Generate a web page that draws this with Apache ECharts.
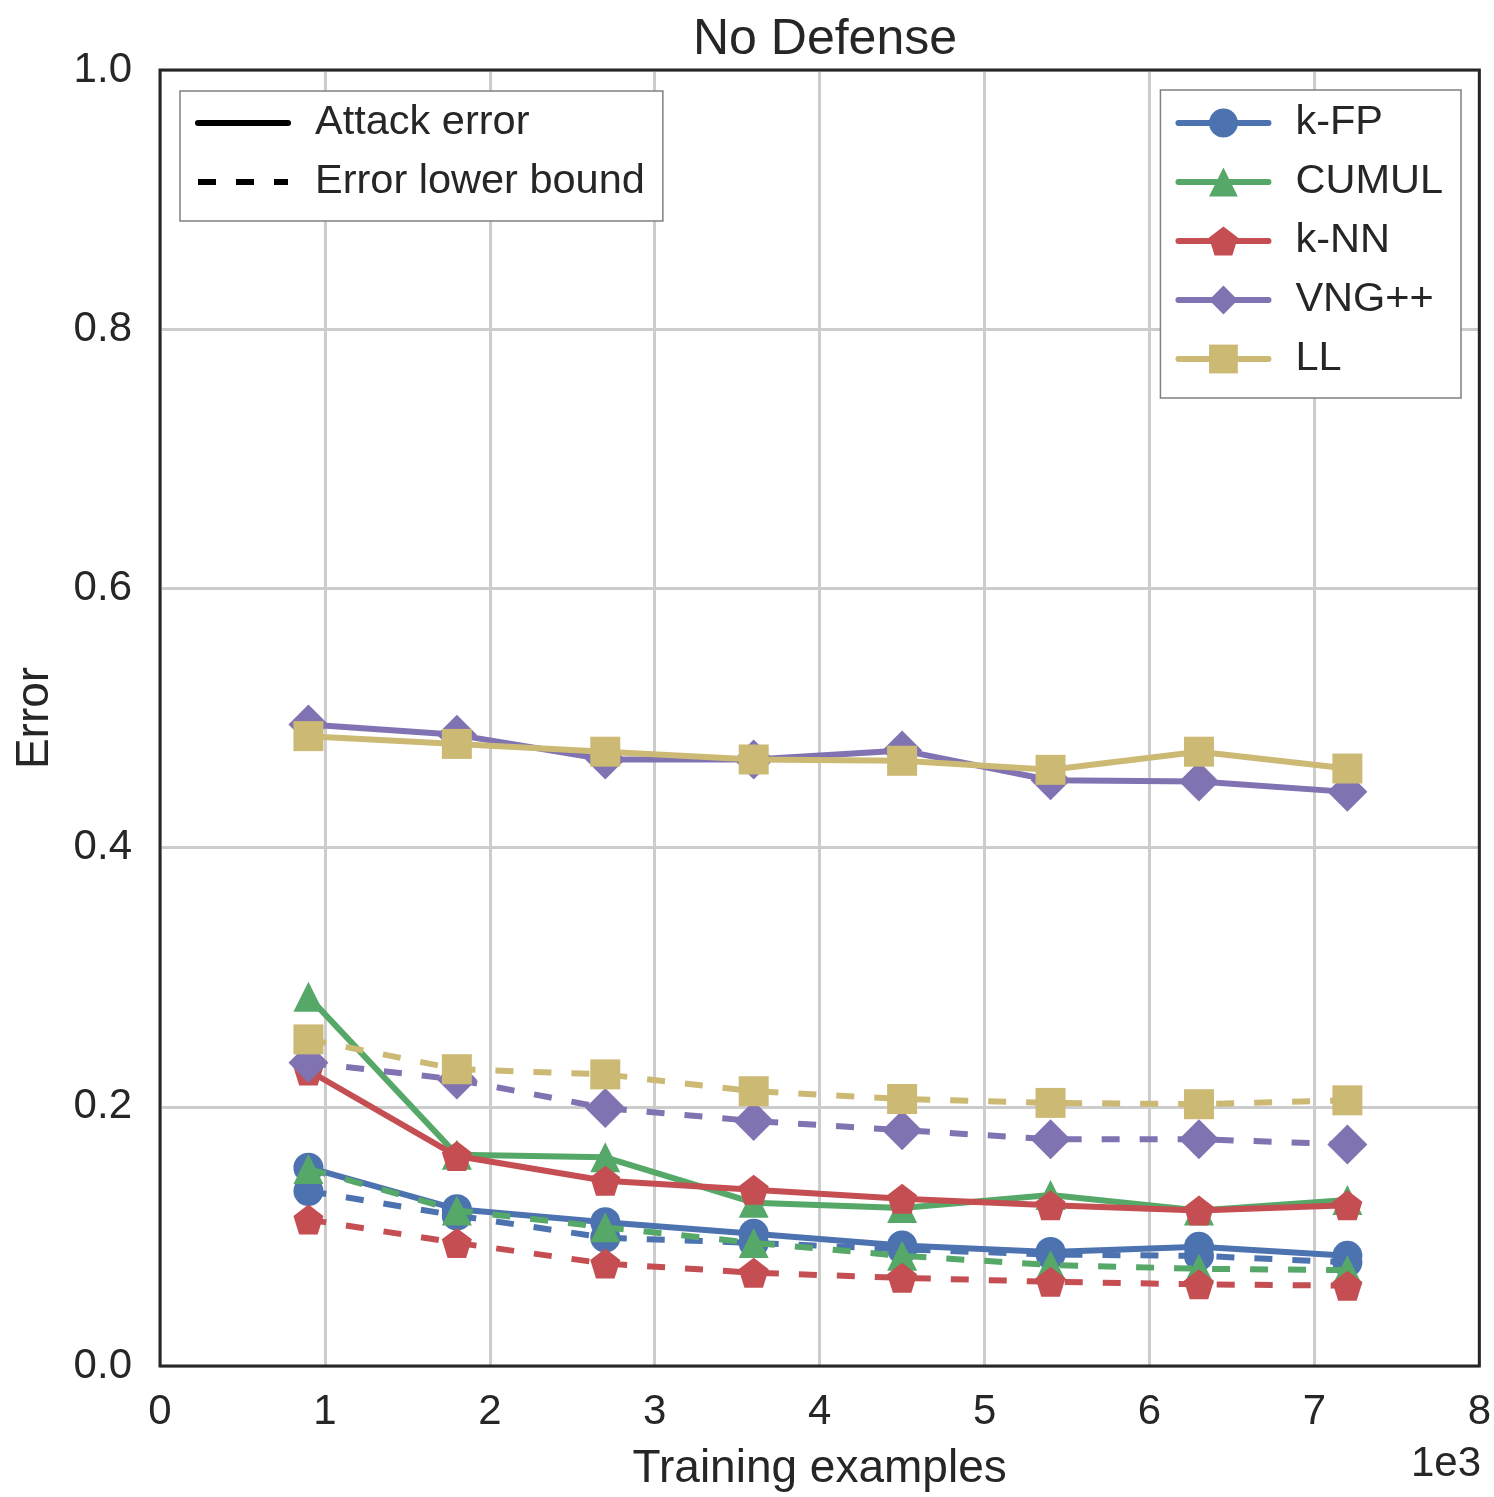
<!DOCTYPE html>
<html>
<head>
<meta charset="utf-8">
<script src="https://cdn.jsdelivr.net/npm/echarts@6/dist/echarts.min.js"></script>
<style>
  html, body { margin: 0; padding: 0; background: #fff; }
  #chart { width: 1494px; height: 1497px; }
</style>
</head>
<body>
<div id="chart"></div>
<script>
// training examples, in thousands (axis shows 1e3)
const trainSizes = [0.9, 1.8, 2.7, 3.6, 4.5, 5.4, 6.3, 7.2]

const attacks = ['k-FP', 'CUMUL', 'k-NN', 'VNG++', 'LL']

// attack error (solid lines)
const kfpError = [0.153, 0.121, 0.111, 0.102, 0.093, 0.088, 0.092, 0.085]
const cumulError = [0.285, 0.163, 0.161, 0.126, 0.122, 0.132, 0.120, 0.128]
const knnError = [0.228, 0.162, 0.143, 0.136, 0.129, 0.124, 0.120, 0.124]
const vngError = [0.495, 0.487, 0.468, 0.468, 0.475, 0.452, 0.451, 0.443]
const llError = [0.486, 0.480, 0.474, 0.468, 0.467, 0.460, 0.474, 0.461]

// error lower bound (dashed lines)
const kfpBound = [0.135, 0.116, 0.099, 0.095, 0.090, 0.086, 0.085, 0.080]
const cumulBound = [0.152, 0.120, 0.107, 0.095, 0.085, 0.078, 0.075, 0.074]
const knnBound = [0.113, 0.095, 0.079, 0.072, 0.068, 0.065, 0.063, 0.062]
const vngBound = [0.234, 0.221, 0.199, 0.189, 0.182, 0.175, 0.175, 0.171]
const llBound = [0.252, 0.229, 0.225, 0.212, 0.206, 0.203, 0.202, 0.205]

const yTicks = [0, 0.2, 0.4, 0.6, 0.8, 1.0]

const errors = [kfpError, cumulError, knnError, vngError, llError]
const bounds = [kfpBound, cumulBound, knnBound, vngBound, llBound]
const colors = ['#4C72B0', '#55A868', '#C44E52', '#8172B2', '#CCB974']
const pentagon = 'path://M0,-1 L0.951,-0.309 L0.588,0.809 L-0.588,0.809 L-0.951,-0.309 Z'
const symbols = ['circle', 'triangle', pentagon, 'diamond', 'rect']
const sizes = [30, 30, 30, 40, 30]

const textColor = '#262626'
const font = 'Liberation Sans, Arial, Helvetica, sans-serif'
const dash = [18, 20]
const lw = 6

function pairs(vals) {
	return trainSizes.map((x, i) => [x, vals[i]])
}

let series = []
for (let i = 0; i < attacks.length; i++) {
	series.push({
		name: attacks[i],
		type: 'line',
		data: pairs(errors[i]),
		symbol: symbols[i],
		symbolSize: sizes[i],
		color: colors[i],
		lineStyle: { width: lw, color: colors[i], cap: 'round' },
		itemStyle: { color: colors[i] },
		z: 10 + i * 2,
	})
	series.push({
		name: attacks[i] + ' lower bound',
		type: 'line',
		data: pairs(bounds[i]),
		symbol: symbols[i],
		symbolSize: sizes[i],
		color: colors[i],
		lineStyle: { width: lw, color: colors[i], type: dash, cap: 'butt' },
		itemStyle: { color: colors[i] },
		z: 11 + i * 2,
	})
}

// dummy series used only for the line-style legend (symbol has no area)
const blank = 'path://M0,0L1,1'
series.push({
	name: 'Attack error',
	type: 'line',
	data: [],
	symbol: blank,
	color: '#000',
	lineStyle: { width: lw, color: '#000', cap: 'round' },
})
series.push({
	name: 'Error lower bound',
	type: 'line',
	data: [],
	symbol: blank,
	color: '#000',
	lineStyle: { width: lw, color: '#000', type: dash, cap: 'butt' },
})

function makeLegend(names, pos, padding) {
	return Object.assign({
		data: names,
		orient: 'vertical',
		backgroundColor: '#fff',
		borderColor: '#808080',
		borderWidth: 1.5,
		borderRadius: 0,
		padding: padding,
		itemWidth: 90,
		itemHeight: 36,
		itemGap: 17,
		selectedMode: false,
		lineStyle: { width: lw },
		textStyle: {
			fontFamily: font,
			fontSize: 41.5,
			lineHeight: 40,
			color: textColor,
			padding: [0, 0, 0, 22],
		},
	}, pos)
}

const option = {
	animation: false,
	backgroundColor: '#fff',
	title: {
		text: 'No Defense',
		left: 820,
		textAlign: 'center',
		top: 10,
		textStyle: { fontFamily: font, fontSize: 50, fontWeight: 'normal', color: textColor },
	},
	legend: [
		makeLegend(attacks, { right: 33, top: 90 }, [12, 18, 18, 15]),
		makeLegend(['Attack error', 'Error lower bound'], { left: 180, top: 91 }, [11, 18, 18, 15]),
	],
	grid: {
		left: 160,
		right: 13,
		top: 70,
		bottom: 127,
		show: true,
		borderColor: textColor,
		borderWidth: 3,
		backgroundColor: 'transparent',
		z: 20,
	},
	xAxis: {
		type: 'value',
		min: 0,
		max: 8,
		interval: 1,
		name: 'Training examples',
		nameLocation: 'middle',
		nameGap: 80,
		nameTextStyle: { fontFamily: font, fontSize: 46, color: textColor },
		axisLine: { show: false },
		axisTick: { show: false },
		axisLabel: { fontFamily: font, fontSize: 42, color: textColor, margin: 25 },
		splitLine: { show: true, lineStyle: { color: '#cccccc', width: 3 } },
	},
	yAxis: {
		type: 'value',
		min: yTicks[0],
		max: yTicks[yTicks.length - 1],
		interval: 0.2,
		name: 'Error',
		nameLocation: 'middle',
		nameGap: 102,
		nameTextStyle: { fontFamily: font, fontSize: 46, color: textColor },
		axisLine: { show: false },
		axisTick: { show: false },
		axisLabel: {
			fontFamily: font,
			fontSize: 42,
			color: textColor,
			margin: 28,
			formatter: (v) => v.toFixed(1),
		},
		splitLine: { show: true, lineStyle: { color: '#cccccc', width: 3 } },
	},
	graphic: [
		{
			type: 'text',
			right: 13,
			top: 1443,
			style: { text: '1e3', fontFamily: font, fontSize: 42, fill: textColor },
		},
	],
	series: series,
}

var chart = echarts.init(document.getElementById('chart'))
chart.setOption(option)
</script>
</body>
</html>
